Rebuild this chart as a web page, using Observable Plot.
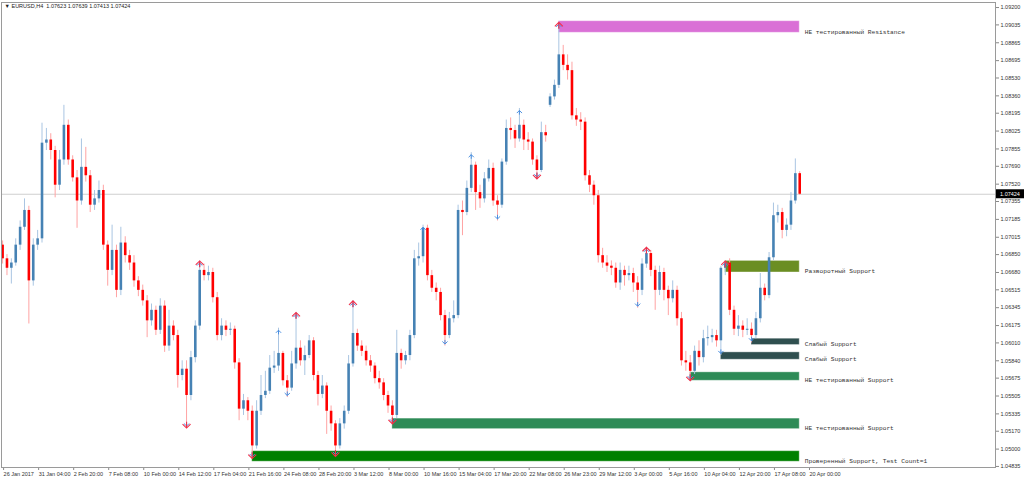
<!DOCTYPE html>
<html><head><meta charset="utf-8">
<script src="https://cdn.jsdelivr.net/npm/d3@7"></script>
<script src="https://cdn.jsdelivr.net/npm/@observablehq/plot@0.6"></script>
<style>body{margin:0;background:#fff;} svg{display:block}</style>
</head><body><div id="chart"></div>
<script>
// ---------- data ----------
const headerText = "▼ EURUSD,H4  1.07623 1.07639 1.07413 1.07424";
const xTickLabels = ["26 Jan 2017","31 Jan 04:00","2 Feb 20:00","7 Feb 08:00","10 Feb 00:00","14 Feb 12:00","17 Feb 04:00","21 Feb 16:00","24 Feb 08:00","28 Feb 20:00","3 Mar 12:00","8 Mar 00:00","10 Mar 16:00","15 Mar 04:00","17 Mar 20:00","22 Mar 08:00","26 Mar 23:00","29 Mar 12:00","3 Apr 00:00","5 Apr 16:00","10 Apr 04:00","12 Apr 20:00","17 Apr 08:00","20 Apr 00:00"];
const candlesPerLabel = 8;
const yTicks = [1.09200,1.09035,1.08865,1.08695,1.08530,1.08360,1.08195,1.08025,1.07855,1.07690,1.07520,1.07355,1.07185,1.07015,1.06850,1.06680,1.06515,1.06345,1.06175,1.06010,1.05840,1.05675,1.05505,1.05335,1.05170,1.05000,1.04835];
const lastPrice = 1.07424;
const firstOpen = 1.0694;
const gapOpens = [[125, 1.0827]];
const closes = [
1.0681,1.0672,1.0677,1.0694,1.0711,1.0727,1.0660,1.0694,1.0700,1.0791,
1.0794,1.0784,1.0751,1.0775,1.0808,1.0775,1.0758,1.0736,1.0768,1.0760,
1.0732,1.0738,1.0746,1.0694,1.0670,1.0689,1.0651,1.0696,1.0684,1.0677,
1.0660,1.0651,1.0641,1.0622,1.0632,1.0613,1.0636,1.0598,1.0617,1.0608,
1.0570,1.0576,1.0551,1.0587,1.0617,1.0670,1.0665,1.0668,1.0644,1.0608,
1.0617,1.0613,1.0614,1.0582,1.0538,1.0546,1.0536,1.0503,1.0536,1.0551,
1.0555,1.0577,1.0579,1.0591,1.0565,1.0558,1.0581,1.0596,1.0584,1.0589,
1.0603,1.0570,1.0552,1.0560,1.0536,1.0524,1.0503,1.0524,1.0536,1.0581,
1.0610,1.0598,1.0593,1.0584,1.0579,1.0567,1.0563,1.0551,1.0541,1.0532,
1.0591,1.0584,1.0589,1.0608,1.0681,1.0683,1.0710,1.0665,1.0653,1.0649,
1.0627,1.0608,1.0624,1.0627,1.0727,1.0725,1.0748,1.0770,1.0744,1.0738,
1.0757,1.0767,1.0736,1.0732,1.0773,1.0805,1.0803,1.0795,1.0808,1.0794,
1.0792,1.0775,1.0765,1.0801,1.0798,1.0835,1.0846,1.0875,1.0865,1.0860,
1.0817,1.0813,1.0811,1.0760,1.0751,1.0741,1.0684,1.0677,1.0674,1.0672,
1.0658,1.0670,1.0665,1.0667,1.0658,1.0651,1.0676,1.0686,1.0670,1.0651,
1.0668,1.0651,1.0643,1.0651,1.0624,1.0584,1.0582,1.0574,1.0593,1.0587,
1.0605,1.0606,1.0608,1.0603,1.0672,1.0677,1.0632,1.0614,1.0617,1.0613,
1.0614,1.0608,1.0624,1.0653,1.0646,1.0682,1.0722,1.0725,1.0708,1.0713,
1.0736,1.0762,1.07424];
const highs = [
1.0698,1.0685,1.0681,1.0700,1.0717,1.0738,1.0731,1.0700,1.0708,1.0810,
1.0805,1.0800,1.0788,1.0784,1.0827,1.0813,1.0779,1.0765,1.0795,1.0787,
1.0765,1.0746,1.0755,1.0751,1.0698,1.0713,1.0694,1.0711,1.0702,1.0689,
1.0684,1.0664,1.0656,1.0646,1.0638,1.0636,1.0643,1.0641,1.0632,1.0622,
1.0613,1.0584,1.0584,1.0593,1.0622,1.0679,1.0676,1.0674,1.0672,1.0649,
1.0624,1.0622,1.0620,1.0617,1.0586,1.0552,1.0549,1.0541,1.0546,1.0570,
1.0574,1.0589,1.0593,1.0615,1.0593,1.0570,1.0593,1.0630,1.0603,1.0598,
1.0608,1.0606,1.0574,1.0570,1.0563,1.0541,1.0527,1.0529,1.0541,1.0589,
1.0641,1.0614,1.0603,1.0598,1.0589,1.0582,1.0574,1.0567,1.0555,1.0546,
1.0613,1.0595,1.0593,1.0613,1.0689,1.0696,1.0713,1.0713,1.0670,1.0658,
1.0653,1.0632,1.0630,1.0641,1.0732,1.0736,1.0755,1.0782,1.0773,1.0751,
1.0763,1.0775,1.0772,1.0741,1.0776,1.0813,1.0815,1.0808,1.0824,1.0813,
1.0801,1.0795,1.0779,1.0811,1.0808,1.0838,1.0851,1.0906,1.0884,1.0875,
1.0868,1.0824,1.0820,1.0815,1.0765,1.0755,1.0746,1.0691,1.0684,1.0679,
1.0677,1.0677,1.0674,1.0674,1.0672,1.0664,1.0681,1.0692,1.0689,1.0674,
1.0674,1.0672,1.0655,1.0660,1.0655,1.0630,1.0593,1.0589,1.0598,1.0603,
1.0613,1.0617,1.0614,1.0613,1.0674,1.0679,1.0681,1.0636,1.0627,1.0622,
1.0624,1.0620,1.0630,1.0667,1.0657,1.0687,1.0734,1.0732,1.0729,1.0719,
1.0744,1.0776,1.07639];
const lows = [
1.0676,1.0665,1.0657,1.0674,1.0689,1.0708,1.0619,1.0655,1.0689,1.0696,
1.0784,1.0775,1.0739,1.0746,1.0770,1.0770,1.0754,1.0710,1.0732,1.0754,
1.0725,1.0727,1.0734,1.0689,1.0655,1.0665,1.0644,1.0646,1.0677,1.0670,
1.0654,1.0645,1.0636,1.0606,1.0617,1.0608,1.0609,1.0592,1.0593,1.0603,
1.0558,1.0565,1.0520,1.0546,1.0582,1.0613,1.0660,1.0660,1.0639,1.0603,
1.0603,1.0607,1.0608,1.0576,1.0527,1.0532,1.0527,1.0491,1.0500,1.0532,
1.0548,1.0552,1.0572,1.0574,1.0560,1.0549,1.0555,1.0576,1.0579,1.0570,
1.0586,1.0565,1.0541,1.0548,1.0514,1.0517,1.0493,1.0500,1.0519,1.0533,
1.0578,1.0593,1.0588,1.0579,1.0573,1.0562,1.0557,1.0546,1.0534,1.0524,
1.0529,1.0576,1.0580,1.0584,1.0605,1.0674,1.0677,1.0660,1.0649,1.0641,
1.0622,1.0598,1.0605,1.0620,1.0624,1.0703,1.0722,1.0744,1.0727,1.0729,
1.0734,1.0754,1.0731,1.0717,1.0729,1.0770,1.0794,1.0786,1.0792,1.0784,
1.0784,1.0770,1.0757,1.0763,1.0792,1.0825,1.0832,1.0843,1.0860,1.0851,
1.0813,1.0807,1.0803,1.0755,1.0744,1.0732,1.0677,1.0672,1.0668,1.0665,
1.0653,1.0651,1.0655,1.0660,1.0649,1.0634,1.0646,1.0672,1.0664,1.0632,
1.0646,1.0641,1.0627,1.0639,1.0617,1.0579,1.0574,1.0565,1.0571,1.0579,
1.0582,1.0598,1.0601,1.0597,1.0589,1.0665,1.0627,1.0608,1.0607,1.0606,
1.0608,1.0601,1.0605,1.0620,1.0641,1.0643,1.0679,1.0715,1.0700,1.0702,
1.0708,1.0733,1.07413];
const fractalHighIdx    = [45,63,67,80,96,107,118,127,147,165];
const fractalHighStrong = [true,false,true,true,false,false,false,true,true,true];
const fractalLowIdx     = [42,57,65,76,89,101,113,122,145,157,164,171];
const fractalLowStrong  = [true,true,false,true,true,false,false,true,false,true,false,false];
const zoneLabels = ["НЕ тестированный Resistance","Разворотный Support","Слабый Support","Слабый Support","НЕ тестированный Support","НЕ тестированный Support","Проверенный Support, Test Count=1"];
const zoneStart  = [127,165,171,164,157,89,57];
const zoneTop    = [1.0907,1.0679,1.0605,1.0592,1.0573,1.0529,1.0498];
const zoneBottom = [1.0896,1.0668,1.0599,1.0585,1.0565,1.0519,1.0488];
const zoneKind   = ["resistance","reversal","weak","weak","untested","untested","proven"];

// ---------- styles ----------
const zoneColors = {resistance:"#DA70D6", reversal:"#6B8E23", weak:"#2F4F4F", untested:"#2E8B57", proven:"#008000"};
const upBody = "#4682B4", downBody = "#FF0000", upWick = "#a9c5e2", downWick = "#ffa3a3";

// ---------- build ----------
const gap = new Map(gapOpens);
const candles = closes.map((c, i) => ({
  i, close: c, high: highs[i], low: lows[i],
  open: i === 0 ? firstOpen : (gap.has(i) ? gap.get(i) : closes[i - 1])
}));
const lastIdx = closes.length - 1;
const zones = zoneLabels.map((label, k) => ({
  label, start: zoneStart[k], end: lastIdx, top: zoneTop[k], bottom: zoneBottom[k], color: zoneColors[zoneKind[k]]
}));
const fHigh = fractalHighIdx.map((i, k) => ({i, y: highs[i], strong: fractalHighStrong[k]}));
const fLow = fractalLowIdx.map((i, k) => ({i, y: lows[i], strong: fractalLowStrong[k]}));

const chevUp = {draw(ctx, size){ const r = Math.sqrt(size/Math.PI); ctx.moveTo(-r, r); ctx.lineTo(0, 0); ctx.lineTo(r, r); ctx.moveTo(0,0); ctx.lineTo(0, r*1.6); }};
const chevDown = {draw(ctx, size){ const r = Math.sqrt(size/Math.PI); ctx.moveTo(-r, -r); ctx.lineTo(0, 0); ctx.lineTo(r, -r); ctx.moveTo(0,0); ctx.lineTo(0, -r*1.6); }};

const isUp = d => d.close >= d.open;

const chart = Plot.plot({
  width: 1024, height: 480,
  marginLeft: 1, marginRight: 29, marginTop: 2, marginBottom: 13,
  style: {fontFamily: "'Liberation Sans', Arial, sans-serif", background: "#fff", color: "#222"},
  x: {domain: [-0.25, 226.7]},
  y: {domain: [1.04825, 1.09248]},
  marks: [
    Plot.ruleY([lastPrice], {stroke: "#cfcfcf", strokeWidth: 1}),
    Plot.rect(zones, {x1: "start", x2: "end", y1: "bottom", y2: "top", fill: "color", stroke: "#ffffff", strokeOpacity: 0.35}),
    Plot.ruleX(candles, {x: "i", y1: "low", y2: "high", stroke: d => isUp(d) ? upWick : downWick, strokeWidth: 1}),
    Plot.ruleX(candles, {x: "i", y1: "open", y2: "close", stroke: d => isUp(d) ? upBody : downBody, strokeWidth: 2.6}),
    Plot.dot(fHigh, {x: "i", y: "y", symbol: chevUp, r: 2.6, stroke: "#4a8fe0", fill: "none", strokeWidth: 1, dy: 2}),
    Plot.dot(fHigh.filter(d => d.strong), {x: "i", y: "y", symbol: chevUp, r: 4, stroke: "#f0304a", fill: "none", strokeWidth: 1.1}),
    Plot.dot(fLow, {x: "i", y: "y", symbol: chevDown, r: 2.6, stroke: "#4a8fe0", fill: "none", strokeWidth: 1, dy: -2}),
    Plot.dot(fLow.filter(d => d.strong), {x: "i", y: "y", symbol: chevDown, r: 4, stroke: "#f0304a", fill: "none", strokeWidth: 1.1}),
    Plot.text(zones, {x: "end", y: "bottom", text: "label", textAnchor: "start", lineAnchor: "bottom", dx: 5, dy: 1,
      fontFamily: "'Liberation Mono', 'Courier New', monospace", fontSize: 6.2, fill: "#333"}),
    Plot.text([headerText], {frameAnchor: "top-left", dx: 3, dy: 2, lineAnchor: "top", textAnchor: "start", fontSize: 5.5, fill: "#222"}),
    Plot.axisY({anchor: "right", ticks: yTicks, tickSize: 3, tickPadding: 2, tickFormat: d => d.toFixed(5), fontSize: 5.5, fill: "#333", stroke: "#888"}),
    Plot.axisX({anchor: "bottom", ticks: xTickLabels.map((_, k) => k * candlesPerLabel), tickSize: 3, tickPadding: 2,
      tickFormat: d => xTickLabels[d / candlesPerLabel], textAnchor: "start", dx: 1, fontSize: 5.5, fill: "#333", stroke: "#888"}),
    Plot.frame({stroke: "#9a9a9a"})
  ]
});
document.getElementById("chart").append(chart);

// current price tag on the price axis, positioned via the plot's own scales
const ys = chart.scale("y"), xs = chart.scale("x");
const ty = ys.apply(lastPrice), tx = xs.range[1];
const svg = d3.select(chart);
const tag = svg.append("g").attr("transform", `translate(${tx + 1},${ty})`);
tag.append("rect").attr("x", 0).attr("y", -4.5).attr("width", 28).attr("height", 9).attr("fill", "#000");
tag.append("text").attr("x", 14).attr("y", 0).attr("dy", "0.35em").attr("text-anchor", "middle")
  .style("fill", "#fff").style("font-size", "5.5px").style("font-family", "'Liberation Sans', Arial, sans-serif")
  .text(lastPrice.toFixed(5));
</script>
</body></html>
